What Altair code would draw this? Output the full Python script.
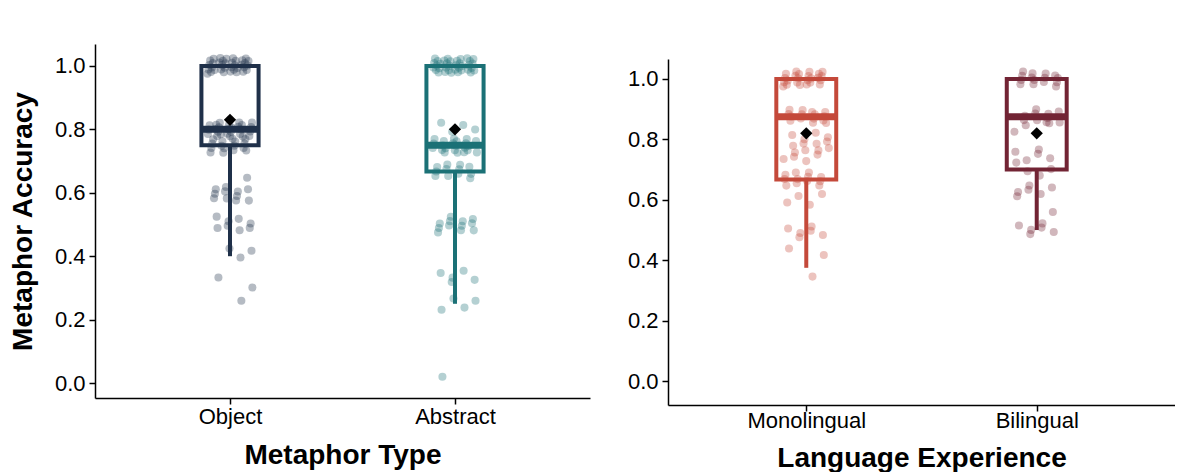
import altair as alt
import pandas as pd

FONT = "Liberation Sans"

# ---- Left panel: Metaphor Type ----
type_cats = ["Object", "Abstract"]
type_colors = ["#1f3049", "#1b7176"]
object_acc = ([1.0] * 36 + [0.8] * 26 + [0.75] * 16 + [0.65] + [0.6] * 11
              + [0.5] * 8 + [0.4] * 3 + [0.33, 0.32] + [0.25])
abstract_acc = ([1.0] * 36 + [0.8] * 4 + [0.75] * 22 + [0.67] * 12 + [0.5] * 12
                + [0.33] * 5 + [0.25] * 4 + [0.025])
type_q1 = [0.75, 0.667]
type_median = [0.8, 0.75]
type_q3 = [1.0, 1.0]
type_lower = [0.4, 0.25]
type_mean = [0.83, 0.80]

# ---- Right panel: Language Experience ----
lang_cats = ["Monolingual", "Bilingual"]
lang_colors = ["#c4493a", "#722434"]
mono_acc = ([1.0] * 24 + [0.875] * 15 + [0.8] * 8 + [0.75] * 8 + [0.67] * 12
            + [0.6] * 4 + [0.5] * 6 + [0.42] * 2 + [0.37])
bi_acc = ([1.0] * 15 + [0.875] * 10 + [0.83] * 3 + [0.75] * 5 + [0.7] * 4
          + [0.625] * 6 + [0.58] + [0.5] * 6)
lang_q1 = [0.667, 0.7]
lang_median = [0.875, 0.875]
lang_q3 = [1.0, 1.0]
lang_lower = [0.375, 0.5]
lang_mean = [0.82, 0.82]


def points_df(cats, series):
    rows = []
    for pos, (cat, vals) in enumerate(zip(cats, series), start=1):
        for v in vals:
            rows.append({"cat": cat, "pos": pos, "acc": v, "i": len(rows)})
    return pd.DataFrame(rows)


def box_df(cats, q1, med, q3, lo, mean):
    return pd.DataFrame({"cat": cats, "pos": [1, 2], "q1": q1, "median": med,
                         "q3": q3, "lower": lo, "mean": mean})


def panel(pts, box, cats, colors, xtitle, ytitle, width, height, ydom, halfw,
          xlabpad, xtitlepad):
    xs = alt.Scale(domain=[0.4, 2.6], nice=False, zero=False)
    ys = alt.Scale(domain=ydom, nice=False, zero=False)
    label_expr = f"datum.value == 1 ? '{cats[0]}' : '{cats[1]}'"
    xaxis = alt.Axis(values=[1, 2], labelExpr=label_expr, title=xtitle,
                     titlePadding=xtitlepad, labelPadding=xlabpad)
    yaxis = alt.Axis(values=[0, 0.2, 0.4, 0.6, 0.8, 1.0], format=".1f",
                     title=ytitle if ytitle else "", titlePadding=17, labelPadding=4)
    cscale = alt.Scale(domain=cats, range=colors)

    pts_layer = alt.Chart(pts).transform_calculate(
        xj="datum.pos + ((datum.i * 0.7548776662) % 1 - 0.5) * 0.2",
        yj="datum.acc + ((datum.i * 0.5698402910) % 1 - 0.5) * 0.05",
    ).mark_circle(size=65, opacity=0.33).encode(
        x=alt.X("xj:Q", scale=xs, axis=xaxis),
        y=alt.Y("yj:Q", scale=ys, axis=yaxis),
        color=alt.Color("cat:N", scale=cscale, legend=None),
    )

    base = alt.Chart(box).transform_calculate(
        x0=f"datum.pos - {halfw}", x1=f"datum.pos + {halfw}"
    )
    whisker = base.mark_rule(strokeWidth=4).encode(
        x=alt.X("pos:Q", scale=xs, axis=xaxis),
        y=alt.Y("lower:Q", scale=ys, axis=yaxis),
        y2="q1:Q",
        stroke=alt.Stroke("cat:N", scale=cscale, legend=None),
    )
    rect = base.mark_rect(fillOpacity=0, strokeWidth=4).encode(
        x=alt.X("x0:Q", scale=xs, axis=xaxis),
        x2="x1:Q",
        y=alt.Y("q1:Q", scale=ys, axis=yaxis),
        y2="q3:Q",
        stroke=alt.Stroke("cat:N", scale=cscale, legend=None),
    )
    med = base.mark_rule(strokeWidth=7).encode(
        x=alt.X("x0:Q", scale=xs, axis=xaxis),
        x2="x1:Q",
        y=alt.Y("median:Q", scale=ys, axis=yaxis),
        stroke=alt.Stroke("cat:N", scale=cscale, legend=None),
    )
    mean = base.mark_point(shape="diamond", filled=True, size=150, color="black",
                           opacity=1).encode(
        x=alt.X("pos:Q", scale=xs, axis=xaxis),
        y=alt.Y("mean:Q", scale=ys, axis=yaxis),
    )
    return alt.layer(pts_layer, whisker, rect, med, mean).properties(
        width=width, height=height
    )


left = panel(points_df(type_cats, [object_acc, abstract_acc]),
             box_df(type_cats, type_q1, type_median, type_q3, type_lower, type_mean),
             type_cats, type_colors, "Metaphor Type", "Metaphor Accuracy",
             495, 354, [-0.047, 1.069], 0.127, 2, 14)

right = panel(points_df(lang_cats, [mono_acc, bi_acc]),
              box_df(lang_cats, lang_q1, lang_median, lang_q3, lang_lower, lang_mean),
              lang_cats, lang_colors, "Language Experience", None,
              507, 346, [-0.079, 1.066], 0.13, -1, 13)

spacer = alt.Chart(pd.DataFrame({"a": [0]})).mark_point(opacity=0).encode(
    x=alt.value(0), y=alt.value(0)
).properties(width=507, height=1)

right_col = alt.vconcat(spacer, right, spacing=12)

chart = alt.hconcat(left, right_col, spacing=37).resolve_scale(
    color="independent", stroke="independent"
).properties(
    padding={"left": 1, "top": 33, "right": 0, "bottom": 0}
).configure_axis(
    labelFont=FONT, titleFont=FONT, labelFontSize=22, titleFontSize=28,
    titleFontWeight="bold", labelColor="black", titleColor="black",
    domainColor="black", tickColor="black", domainWidth=1.5, tickWidth=1.5,
    tickSize=6, grid=False,
).configure_view(stroke=None)

chart.save("out.html", embed_options={"renderer": "svg", "actions": False})
